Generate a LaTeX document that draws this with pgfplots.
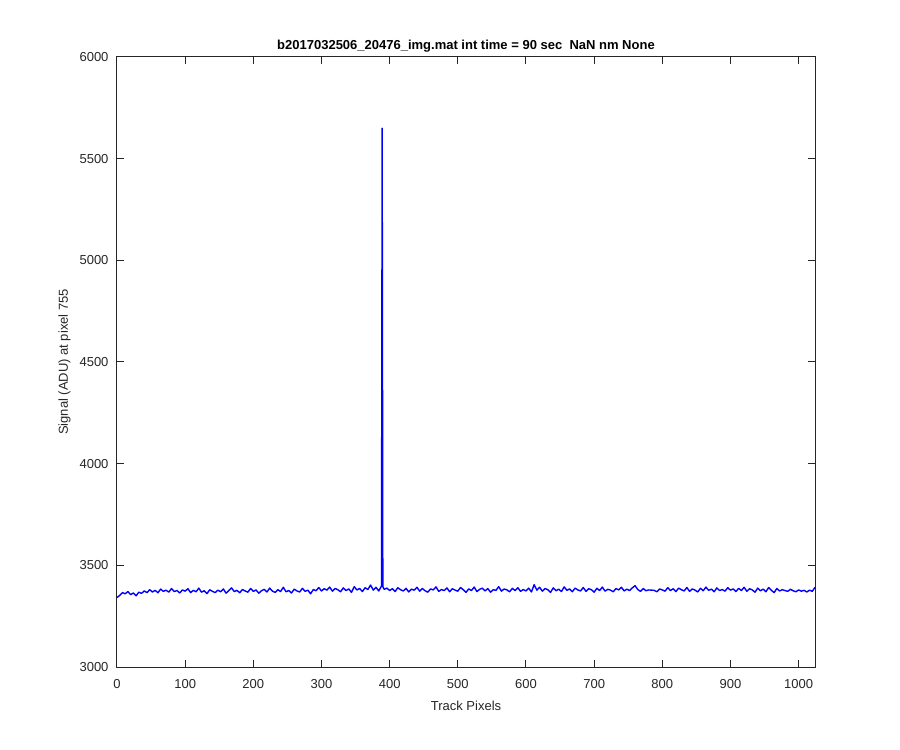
\documentclass[border=0pt]{standalone}
\usepackage{pgfplots}
\pgfplotsset{compat=1.18}
\usepackage{fontspec}
\setmainfont{Liberation Sans}
\definecolor{axgray}{RGB}{38,38,38}
\begin{document}
\fontsize{13bp}{15bp}\selectfont
\begin{tikzpicture}
\path[use as bounding box] (-117bp,-83bp) rectangle (783bp,667bp);
\begin{axis}[
  at={(0,0)}, anchor=south west,
  scale only axis,
  width=698bp, height=610bp,
  xmin=0, xmax=1024, ymin=3000, ymax=6000,
  xtick={0,100,...,1000},
  ytick={3000,3500,...,6000},
  /pgf/number format/assume math mode=true,
  /pgf/number format/1000 sep={},
  tick align=inside,
  major tick length=7bp,
  axis line style={axgray, line width=1bp},
  tick style={axgray, line width=1bp},
  every tick label/.append style={font=\fontsize{13bp}{15bp}\selectfont, text=axgray},
  xticklabel style={yshift=-8bp},
  yticklabel style={xshift=-4bp},
  title={\bfseries b2017032506\_20476\_img.mat int time = 90 sec\ \ NaN nm None},
  title style={font=\fontsize{13bp}{15bp}\selectfont, yshift=-6bp, text=black},
  xlabel={Track Pixels},
  ylabel={Signal (ADU) at pixel 755},
  label style={font=\fontsize{13bp}{15bp}\selectfont, text=axgray},
  xlabel style={yshift=-3bp},
  ylabel style={yshift=0bp},
]
\addplot[blue, line width=1.4bp, line join=round] coordinates {
(0,3342)(4,3352)(8,3366)(12,3360)(16,3371)(20,3356)(24,3364)(28,3350)(32,3368)(36,3362)
(40,3374)(44,3366)(48,3380)(52,3369)(56,3377)(60,3365)(64,3383)(68,3372)(72,3378)(76,3368)
(80,3386)(84,3371)(88,3376)(92,3364)(96,3379)(100,3373)(104,3385)(108,3366)(112,3377)(116,3370)
(120,3388)(124,3368)(128,3375)(132,3361)(136,3380)(140,3372)(144,3366)(148,3378)(152,3370)(156,3384)
(160,3363)(164,3376)(168,3389)(172,3371)(176,3377)(180,3365)(184,3381)(188,3374)(192,3368)(196,3386)
(200,3372)(204,3379)(208,3363)(212,3375)(216,3382)(220,3369)(224,3388)(228,3373)(232,3367)(236,3380)
(240,3371)(244,3392)(248,3370)(252,3376)(256,3364)(260,3383)(264,3374)(268,3369)(272,3387)(276,3372)
(280,3378)(284,3360)(288,3381)(292,3375)(296,3391)(300,3374)(304,3385)(308,3378)(312,3393)(316,3373)
(320,3386)(324,3380)(328,3370)(332,3389)(336,3376)(340,3384)(344,3367)(348,3395)(352,3379)(356,3386)
(360,3371)(364,3390)(368,3381)(372,3403)(376,3378)(380,3392)(384,3374)(388,3398)(389,5650)(390,3395)
(392,3382)(396,3388)(400,3376)(404,3385)(408,3371)(412,3390)(416,3380)(420,3374)(424,3387)(428,3369)
(432,3383)(436,3378)(440,3392)(444,3373)(448,3386)(452,3375)(456,3368)(460,3384)(464,3379)(468,3394)
(472,3372)(476,3381)(480,3376)(484,3389)(488,3370)(492,3385)(496,3378)(500,3373)(504,3391)(508,3380)
(512,3367)(516,3384)(520,3376)(524,3393)(528,3371)(532,3382)(536,3388)(540,3374)(544,3386)(548,3368)
(552,3380)(556,3377)(560,3395)(564,3373)(568,3384)(572,3379)(576,3370)(580,3387)(584,3376)(588,3390)
(592,3372)(596,3381)(600,3374)(604,3388)(608,3369)(612,3405)(616,3378)(620,3392)(624,3373)(628,3386)
(632,3380)(636,3367)(640,3389)(644,3375)(648,3383)(652,3371)(656,3394)(660,3377)(664,3384)(668,3370)
(672,3388)(676,3379)(680,3374)(684,3391)(688,3372)(692,3385)(696,3380)(700,3368)(704,3387)(708,3376)
(712,3393)(716,3373)(720,3382)(724,3378)(728,3370)(732,3386)(736,3379)(740,3392)(744,3374)(748,3383)
(752,3376)(756,3389)(760,3400)(764,3381)(768,3372)(772,3386)(776,3375)(780,3379)(784,3378)(788,3377)
(792,3370)(796,3384)(800,3379)(804,3373)(808,3390)(812,3376)(816,3385)(820,3371)(824,3388)(828,3380)
(832,3374)(836,3391)(840,3372)(844,3384)(848,3378)(852,3369)(856,3387)(860,3375)(864,3393)(868,3377)
(872,3383)(876,3370)(880,3389)(884,3376)(888,3381)(892,3373)(896,3390)(900,3378)(904,3384)(908,3371)
(912,3387)(916,3376)(920,3392)(924,3372)(928,3385)(932,3379)(936,3368)(940,3388)(944,3375)(948,3383)
(952,3370)(956,3391)(960,3377)(964,3366)(968,3386)(972,3374)(976,3380)(980,3376)(984,3372)(988,3382)
(992,3375)(996,3370)(1000,3379)(1004,3373)(1008,3377)(1012,3369)(1016,3378)(1020,3372)(1024,3392)
};
\end{axis}
\end{tikzpicture}
\end{document}
